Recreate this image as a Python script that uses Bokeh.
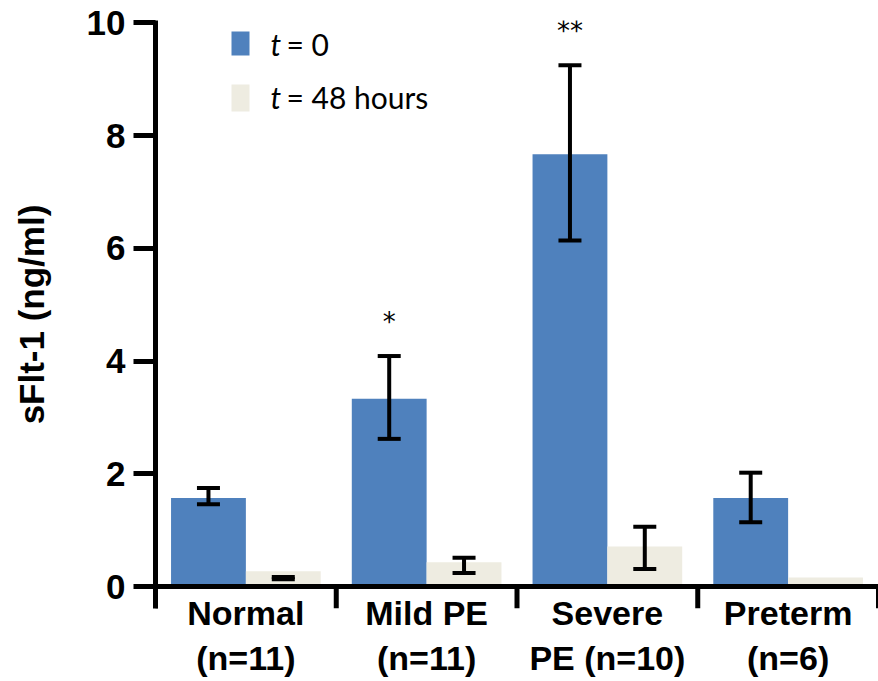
from bokeh.plotting import figure
from bokeh.models import (ColumnDataSource, FixedTicker, Whisker, TeeHead, Label,
                          LabelSet, BoxAnnotation, Range1d)
from bokeh.core.properties import value
from bokeh.embed import file_html
from bokeh.resources import INLINE

# ---- data ----
groups = ["Normal\n(n=11)", "Mild PE\n(n=11)", "Severe\nPE (n=10)", "Preterm\n(n=6)"]
t0_mean = [1.57, 3.33, 7.67, 1.57]
t0_low = [1.46, 2.62, 6.14, 1.14]
t0_high = [1.75, 4.09, 9.25, 2.02]
t48_mean = [0.27, 0.43, 0.71, 0.16]
t48_low = [0.13, 0.24, 0.31, None]
t48_high = [0.17, 0.51, 1.06, None]
stars = ["", "*", "**", ""]
y_ticks = [0, 2, 4, 6, 8, 10]
series_labels = ["= 0", "= 48 hours"]

BLUE = "#4f81bd"
BEIGE = "#eeece1"
BW = 0.414
OFF = BW / 2

n = len(groups)
centers = [i + 0.5 for i in range(n)]
x0 = [c - OFF for c in centers]
x1 = [c + OFF for c in centers]

p = figure(width=878, height=681, output_backend="svg", toolbar_location=None,
           x_range=Range1d(0, n), y_range=Range1d(-0.39, 10.044),
           min_border_left=155, min_border_right=0, min_border_top=20,
           min_border_bottom=73)
p.background_fill_color = None
p.border_fill_color = "white"
p.outline_line_color = None
p.grid.visible = False

p.vbar(x=x0, width=BW, top=t0_mean, bottom=0, fill_color=BLUE, line_color=None)
p.vbar(x=x1, width=BW, top=t48_mean, bottom=0, fill_color=BEIGE, line_color=None)

# error bars
ex, el, eh = [], [], []
for xs, lo, hi in ((x0, t0_low, t0_high), (x1, t48_low, t48_high)):
    for xv, l, h in zip(xs, lo, hi):
        if l is not None and h is not None:
            ex.append(xv); el.append(l); eh.append(h)
esrc = ColumnDataSource(dict(x=ex, lower=el, upper=eh))
p.add_layout(Whisker(base="x", lower="lower", upper="upper", source=esrc,
                     level="overlay", line_width=4, line_color="black",
                     upper_head=TeeHead(size=23, line_width=4, line_color="black"),
                     lower_head=TeeHead(size=23, line_width=4, line_color="black")))

# significance stars
sx, sy, st = [], [], []
for xv, h, s in zip(x0, t0_high, stars):
    if s:
        sx.append(xv); sy.append(h + 0.44); st.append(s)
ssrc = ColumnDataSource(dict(x=sx, y=sy, text=st))
p.add_layout(LabelSet(x="x", y="y", text="text", source=ssrc, level="overlay",
                      text_font=value("DejaVu Sans"), text_font_size="26px",
                      text_align="center", text_baseline="alphabetic",
                      text_color="black"))

# x axis line and group boundary ticks
p.segment(x0=[0], y0=[0], x1=[n], y1=[0], line_width=5, line_color="black")
bounds = list(range(n + 1))
p.segment(x0=bounds, y0=[0] * len(bounds), x1=bounds, y1=[-0.39] * len(bounds),
          line_width=5, line_color="black")

# y axis
ya = p.yaxis[0]
ya.ticker = FixedTicker(ticks=y_ticks)
ya.minor_tick_line_color = None
ya.major_tick_out = 22
ya.major_tick_in = 0
ya.major_tick_line_width = 5
ya.major_tick_line_color = "black"
ya.axis_line_width = 5
ya.axis_line_color = "black"
ya.major_label_standoff = 8
ya.major_label_text_color = "black"
ya.major_label_text_font = "Liberation Sans"
ya.major_label_text_font_style = "bold"
ya.major_label_text_font_size = "35px"
ya.axis_label = "sFlt-1 (ng/ml)"
ya.axis_label_text_color = "black"
ya.axis_label_text_font = "Liberation Sans"
ya.axis_label_text_font_style = "bold"
ya.axis_label_text_font_size = "35px"
ya.axis_label_standoff = 33

# x axis: labels only
xa = p.xaxis[0]
xa.ticker = FixedTicker(ticks=centers)
xa.major_label_overrides = {c: g for c, g in zip(centers, groups)}
xa.axis_line_color = None
xa.major_tick_line_color = None
xa.minor_tick_line_color = None
xa.major_tick_out = 0
xa.major_tick_in = 0
xa.major_label_standoff = -15
xa.major_label_text_color = "black"
xa.major_label_text_font = "Liberation Sans"
xa.major_label_text_font_style = "bold"
xa.major_label_text_font_size = "34px"

# legend (manual)
p.add_layout(BoxAnnotation(left=76, right=94, bottom=553, top=577,
                           left_units="screen", right_units="screen",
                           bottom_units="screen", top_units="screen",
                           fill_color=BLUE, fill_alpha=1, line_color=None))
p.add_layout(BoxAnnotation(left=76, right=94, bottom=497, top=524,
                           left_units="screen", right_units="screen",
                           bottom_units="screen", top_units="screen",
                           fill_color=BEIGE, fill_alpha=1, line_color=None))
for ypos, lab in zip([565, 512], series_labels):
    p.add_layout(Label(x=115, y=ypos, x_units="screen", y_units="screen", text="t",
                       text_font="Lato", text_font_style="italic", text_color="black",
                       text_font_size="30px", text_baseline="middle"))
    p.add_layout(Label(x=131, y=ypos, x_units="screen", y_units="screen", text=lab,
                       text_font="Lato", text_font_size="30px", text_color="black",
                       text_baseline="middle"))

open("out.html", "w").write(file_html(p, INLINE))
